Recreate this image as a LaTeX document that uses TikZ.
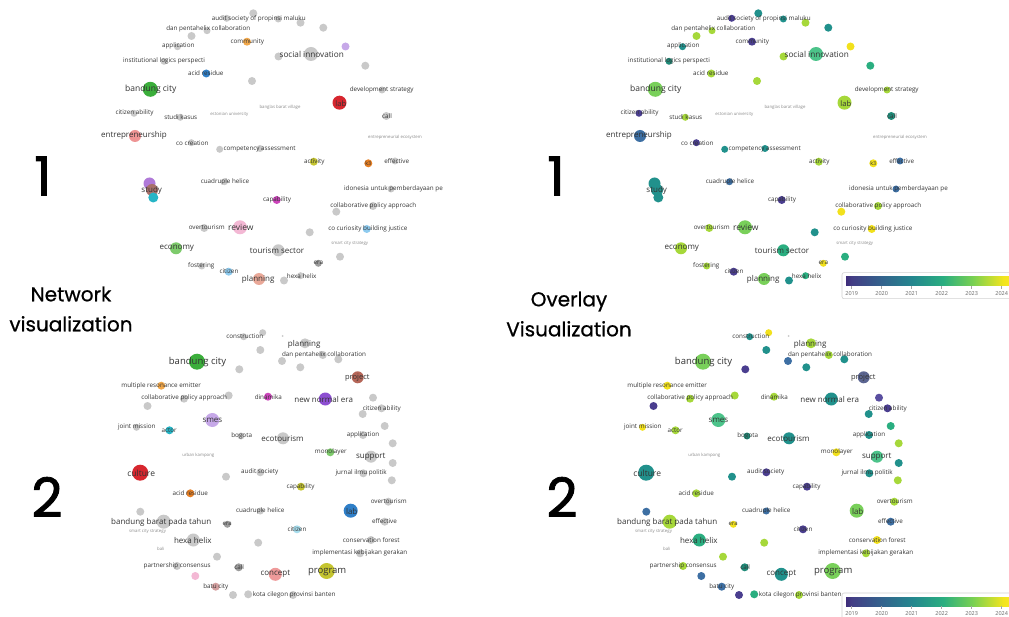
\documentclass[tikz,border=0pt]{standalone}
\usepackage{fontspec}
\setmainfont{Open Sans}
\newfontfamily\titlefont[FakeBold=0.7]{Poppins}
\newfontfamily\numfont[FakeBold=1.6]{Poppins}
\definecolor{G}{HTML}{C9C9C9}
\definecolor{NGrayD}{HTML}{9C9C9C}
\definecolor{NGreen}{HTML}{3BAE3B}
\definecolor{NGreenL}{HTML}{7ECB6C}
\definecolor{NRed}{HTML}{D7262E}
\definecolor{NPinkRed}{HTML}{EE9494}
\definecolor{NOrange}{HTML}{F2A84A}
\definecolor{NOrangeD}{HTML}{E67E22}
\definecolor{NBlue}{HTML}{2F7FC8}
\definecolor{NPurpleL}{HTML}{C6A8E8}
\definecolor{NPurpleS}{HTML}{B07AD8}
\definecolor{NBrown}{HTML}{A8706A}
\definecolor{NBrownP}{HTML}{B56658}
\definecolor{NOlive}{HTML}{C5C530}
\definecolor{NMagenta}{HTML}{CC44BB}
\definecolor{NPink}{HTML}{F3B8D4}
\definecolor{NLBlue}{HTML}{8ECBEF}
\definecolor{NLCyan}{HTML}{A6DCEC}
\definecolor{NCyan}{HTML}{26B5C6}
\definecolor{NSalmon}{HTML}{E9A898}
\definecolor{NSalmonR}{HTML}{EF9A9A}
\definecolor{NSalmonG}{HTML}{D4A0A0}
\definecolor{NPurple}{HTML}{8D4FD1}
\definecolor{V19}{HTML}{4A3E8F}
\definecolor{V19b}{HTML}{5A4FA0}
\definecolor{V20}{HTML}{3D6FA3}
\definecolor{V21}{HTML}{21918C}
\definecolor{V21d}{HTML}{1F8A78}
\definecolor{V215}{HTML}{2AAE80}
\definecolor{V22}{HTML}{4CC38A}
\definecolor{V225}{HTML}{79D05A}
\definecolor{V23}{HTML}{A6D83A}
\definecolor{V24}{HTML}{F2E11C}
\definecolor{VSlate}{HTML}{5B6591}
\definecolor{txt}{HTML}{333333}
\definecolor{tiny}{HTML}{8A8A8A}
\definecolor{c0}{HTML}{3F2D7A}
\definecolor{c19}{HTML}{433E85}
\definecolor{c20}{HTML}{33638D}
\definecolor{c21}{HTML}{24878E}
\definecolor{c22}{HTML}{2AAE80}
\definecolor{c23}{HTML}{7AD151}
\definecolor{c24}{HTML}{F3E51E}
\definecolor{c25}{HTML}{FDE725}
\pgfdeclarehorizontalshading{viridis}{100bp}{color(0bp)=(c0); color(25bp)=(c0); color(26.7bp)=(c19); color(35.75bp)=(c20); color(44.8bp)=(c21); color(53.9bp)=(c22); color(62.9bp)=(c23); color(71.9bp)=(c24); color(75bp)=(c25); color(100bp)=(c25)}
\tikzset{
  lbl/.style={inner sep=0pt, text=txt, anchor=center},
  tinylbl/.style={inner sep=0pt, text=tiny, anchor=center},
  bignum/.style={inner sep=0pt, font=\numfont\fontsize{54}{54}\selectfont},
  ttl/.style={inner sep=0pt, align=center, font=\titlefont\fontsize{20}{30}\selectfont},
  legbox/.style={draw=black!18, fill=white, rounded corners=2pt, line width=0.6pt},
  yearlbl/.style={inner sep=0pt, text=black!60, font=\fontsize{5.5}{6}\selectfont},
  tickln/.style={draw=black!35, line width=0.5pt}
}
\newcommand{\topcircles}{%
253.3/13.3/4/G/V21, 226.7/18.3/3.5/G/V19, 278.3/19/3.5/G/V21, 300.5/22.7/4/G/V23,
323.3/27.7/4/G/V21, 207/30.7/3.5/G/V23, 191.5/36/4/G/V23, 247/41.7/4/NOrange/V19,
177.5/46.7/3.5/G/V21, 345.5/46.5/4/NPurpleL/V24, 311/54/7/G/V22, 278.5/56.5/4/G/V23,
164/61.3/3.5/G/V21d, 365.3/65.7/4/G/V215, 206.3/73.5/4/NBlue/V23, 252/81/4/G/V23,
150.3/89.3/7.5/NGreen/V225, 382/90/3.5/G/V23, 339.5/102.7/7/NRed/V23, 134/113.3/3.5/G/V19,
180.3/117.3/3.5/G/V23, 386.3/116/4/G/V21d, 135/136/6/NPinkRed/V20, 191.3/142.7/3.5/G/V19,
219.7/149.3/3.5/G/V21, 260/148.5/3.5/G/V21, 313.8/161.7/4/NOlive/V23, 368.3/163.3/4/NOrangeD/V24,
395/161/3.5/G/V20, 149.5/183.5/6/NPurpleS/V21, 152/190/6/NBrown/V21, 153.3/197.5/5/NCyan/V21,
224.5/181.7/3.5/G/V20, 391/189/3.5/G/V20, 276.7/200/4/NMagenta/V19, 373/206/4/G/V23,
336.3/211.7/4/G/V24, 204.2/228/4/G/V23, 240/227.3/7/NPink/V225, 309.7/232.3/4/G/V21,
366.7/229/4/NLBlue/V24, 176/248.3/6/NGreenL/V23, 278.3/250.3/6/G/V215, 340/256.7/4/G/V215,
318.3/263.3/3.5/NGrayD/V24, 201.7/266/3.5/G/V23, 228.7/271.7/4/NLBlue/V19, 259/279/6/NSalmon/V225,
284/280.5/4/G/V21, 300.5/275.7/3.5/G/V215}
\newcommand{\toplabels}{%
258.7/19/6.3/audit society of propinsi maluku, 208.3/29.3/6.3/dan pentahelix collaboration,
178.3/45.7/6.3/application, 247.3/41.7/6.3/community, 311.7/54.3/8.2/social innovation,
164/60.7/6.3/institutional logics perspecti, 205.8/73.3/6.3/acid residue,
150.8/89.3/8.5/bandung city, 381.7/90/6.3/development strategy, 340.8/103.3/7.5/lab,
134.5/113.3/6.3/citizen ability, 180.7/117.3/6.3/studi kasus, 387/116/6.3/call,
134/135/8/entrepreneurship, 192.3/143.3/6.3/co creation, 259.7/149.3/6.3/competency assessment,
314.3/161.7/6.3/activity, 368.3/163.3/5.5/k3, 396.7/161/6.3/effective, 151.7/190.7/8/study,
225/181.7/6.3/cuadruple helice, 393.5/189/6.3/idonesia untuk pemberdayaan pe,
277/200/6.3/capability, 373.3/205.5/6.3/collaborative policy approach,
206.7/227.7/6.3/overtourism, 240.8/227.3/8.5/review, 367.8/229/6.3/co curiosity building justice,
176.8/248.3/8/economy, 277/250.3/8/tourism sector, 201.3/266/6.3/fostering,
229/271.7/6.3/citizen, 258.2/279/8/planning, 301.7/275.7/6.3/hexa helix, 318.3/263/6.3/era}
\newcommand{\toptiny}{%
229.3/114/estonian university, 280/107.7/banglas barat village,
395/137.3/entrepreneurial ecosystem, 349.7/243.7/smart city strategy}
\newcommand{\botcircles}{%
262.7/332.7/3.5/G/V24, 243.7/336.7/3.5/G/V21, 282.7/336/1/G/G, 305/343.3/5/G/V23,
260.3/350/4/G/V21, 282/361/4/G/V20, 300.3/367.3/4/G/V21, 322.8/355/4/G/V23,
338.3/359.3/4/G/V21, 197/361.7/8/NGreen/V225, 239.3/369.3/4/G/V19, 357.7/377.3/6/NBrownP/VSlate,
161.3/385.7/4/NOrange/V24, 228.7/395.5/4/G/V23, 184/398.7/4/G/V23, 147.5/406/4/G/V19,
268/396.7/4/NMagenta/V23, 325.3/399/6.5/NPurple/V21, 373/397.7/4/G/V19b, 362.7/414/4/G/V21,
381.5/408.3/4/G/V19, 212.3/420/7/NPurpleL/V22, 384.7/426/4/G/V215, 136.5/427.3/3.5/G/V24,
169.5/430.3/4/NCyan/V23, 241/436/3.5/G/V21d, 283/438.3/6/G/V21, 363/435/4/G/V21,
392.7/443.3/4/G/V23, 330.3/452.3/4/NGreenL/V24, 371/456.7/6/G/V22, 392.7/463/4/G/V21,
140.2/472.7/8/NRed/V21, 226/476.7/4/G/V21, 260.3/472.3/4/G/V19, 363.3/473.3/4/G/V21,
391.8/480.3/4/G/V23, 301/486.7/4/NOlive/V19, 190.3/493.3/4/NOrangeD/V23, 388.3/501.7/4/G/V23,
140.3/511.7/4/G/V20, 260.3/511/3.5/G/V20, 350.7/510.7/7/NBlue/V225, 163.7/521.7/7/G/V23,
227.3/524.3/3.5/NGrayD/V24, 384.7/521.7/4/G/V20, 297/529.3/4/NLCyan/V19, 193.3/540/6.5/G/V215,
258.2/542.7/4/G/V23, 371/540/4/G/V24, 217/556.7/4/G/V23, 360/553.3/4/G/V23,
177/566/4/G/V23, 195.3/576/4/NPink/V20, 238.7/567.3/4/NGrayD/V21d, 275.3/574.3/6.5/NSalmonR/V21,
326.7/571/8/NOlive/V225, 215.7/586.7/4/NSalmonG/V20, 233/595/4/G/V19, 248.2/594.3/4/G/V215,
293/595/4/G/V23}
\newcommand{\botlabels}{%
244.8/336/6.3/construction, 304.2/344/8/planning, 324/355/6.3/dan pentahelix collaboration,
197.5/362.3/9.5/bandung city, 357.3/377.3/7.5/project, 161.2/385.7/6.3/multiple resonance emitter,
184.2/397.7/6.3/collaborative policy approach, 268.3/396.7/6.3/dinamika, 323.7/399/8/new normal era,
381.8/409/6.3/citizen ability, 212.5/420/8/smes, 136.8/427.3/6.3/joint mission, 169.2/430/6.3/actor,
241.7/436/6.3/bogota, 282.5/438.3/8/ecotourism, 363/435/6.3/application, 330.8/452.3/6.3/monolayer,
370.8/456.7/8/support, 141.2/473.3/8.5/culture, 259.7/472.3/6.3/audit society,
361.2/473.3/6.3/jurnal ilmu politik, 300.5/486.7/6.3/capability, 190.3/493.3/6.3/acid residue,
388.7/501.7/6.3/overtourism, 260.3/511/6.3/cuadruple helice, 351.7/511.7/8/lab,
161.2/522.3/8/bandung barat pada tahun, 227.2/524.3/6/era, 384.5/521/6.3/effective,
297/529.3/6.3/citizen, 192.8/540/8/hexa helix, 371.3/540/6.3/conservation forest,
359.8/553.3/6.3/implementasi kebijakan gerakan, 177.2/566/6.3/partnership consensus,
239.2/567.3/6.3/call, 275.3/574.3/8/concept, 327.2/572.3/9.5/program, 215.8/586.7/6.3/batu city,
294.2/595/6.3/kota cilegon provinsi banten}
\newcommand{\bottiny}{%
198.3/455/urban kampong, 147.5/531.7/smart city strategy, 160.8/549/bali}
\begin{document}
\begin{tikzpicture}[x=1pt,y=-1pt]
\useasboundingbox[fill=white] (0,0) rectangle (1009,617);
% ---------- network (left) ----------
\foreach \x/\y/\r/\a/\b in \topcircles { \fill[\a] (\x,\y) circle (\r); }
\foreach \x/\y/\r/\a/\b in \botcircles { \fill[\a] (\x,\y) circle (\r); }
\foreach \x/\y/\s/\t [count=\i] in \toplabels { \node[lbl, font=\fontsize{\s}{\s}\selectfont] (tl\i) at (\x,\y) {\t}; }
\foreach \x/\y/\t [count=\i] in \toptiny { \node[tinylbl, font=\fontsize{4.3}{4.3}\selectfont] (tlt\i) at (\x,\y) {\t}; }
\foreach \x/\y/\s/\t [count=\i] in \botlabels { \node[lbl, font=\fontsize{\s}{\s}\selectfont] (bl\i) at (\x,\y) {\t}; }
\foreach \x/\y/\t [count=\i] in \bottiny { \node[tinylbl, font=\fontsize{4.3}{4.3}\selectfont] (blt\i) at (\x,\y) {\t}; }
% ---------- overlay (right) ----------
\begin{scope}[xshift=505pt]
\foreach \x/\y/\r/\a/\b in \topcircles { \fill[\b] (\x,\y) circle (\r); }
\foreach \x/\y/\s/\t [count=\i] in \toplabels { \node[lbl, font=\fontsize{\s}{\s}\selectfont] (tr\i) at (\x,\y) {\t}; }
\foreach \x/\y/\t [count=\i] in \toptiny { \node[tinylbl, font=\fontsize{4.3}{4.3}\selectfont] (trt\i) at (\x,\y) {\t}; }
\end{scope}
\begin{scope}[xshift=506pt]
\foreach \x/\y/\r/\a/\b in \botcircles { \fill[\b] (\x,\y) circle (\r); }
\foreach \x/\y/\s/\t [count=\i] in \botlabels { \node[lbl, font=\fontsize{\s}{\s}\selectfont] (br\i) at (\x,\y) {\t}; }
\foreach \x/\y/\t [count=\i] in \bottiny { \node[tinylbl, font=\fontsize{4.3}{4.3}\selectfont] (brt\i) at (\x,\y) {\t}; }
\end{scope}
% ---------- legends ----------
\foreach \yb/\nm in {272.7/lgt, 593/lgb} {
  \path[legbox] (842,\yb) rectangle (1014,\yb+26);
  \shade[shading=viridis] (846,\yb+4) rectangle (1014,\yb+13.3);
  \foreach \xx/\yr [count=\k] in {851.7/2019, 881.7/2020, 911.7/2021, 941.7/2022, 971.7/2023, 1001.7/2024} {
    \draw[tickln] (\xx,\yb+13.3) -- (\xx,\yb+16);
    \node[yearlbl] (\nm\k) at (\xx,\yb+20.6) {\yr};
  }
}
% ---------- titles ----------
\node[bignum] (n1a) at (43,176) {1};
\node[bignum] (n2a) at (47,497) {2};
\node[bignum] (n1b) at (556,176) {1};
\node[bignum] (n2b) at (562,497) {2};
\node[ttl] (tnet) at (71,309) {Network\\visualization};
\node[ttl] (tover) at (569,314) {Overlay\\Visualization};
\end{tikzpicture}
\end{document}
